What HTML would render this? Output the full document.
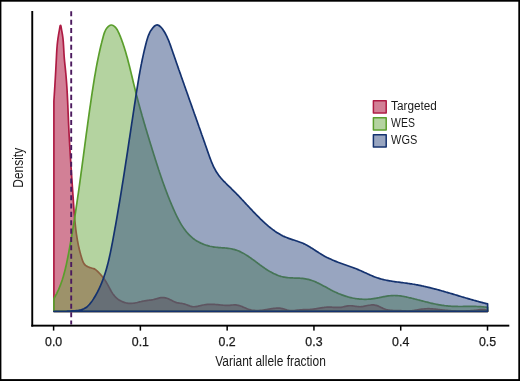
<!DOCTYPE html>
<html><head><meta charset="utf-8"><title>Variant allele fraction density</title>
<style>
html,body{margin:0;padding:0;background:#fff;}
svg{display:block;will-change:transform;}
text{font-family:"Liberation Sans",sans-serif;fill:#1a1a1a;}
</style></head><body>
<svg width="520" height="381" viewBox="0 0 520 381">
<rect x="0" y="0" width="520" height="381" fill="#fff"/>
<!-- outer frame -->
<rect x="0" y="0" width="520" height="1.7" fill="#000"/>
<rect x="0" y="379.1" width="520" height="1.9" fill="#000"/>
<rect x="0" y="0" width="1.4" height="381" fill="#000"/>
<rect x="518.3" y="0" width="1.7" height="381" fill="#000"/>
<!-- densities -->
<path d="M53.90 311.30 L53.90 101.00 C53.92 100.75 53.97 100.00 54.00 99.50 C54.03 99.01 54.06 98.51 54.10 98.01 C54.13 97.51 54.16 97.01 54.19 96.51 C54.22 96.01 54.26 95.51 54.29 95.01 C54.32 94.51 54.35 94.02 54.38 93.52 C54.42 93.02 54.45 92.52 54.48 92.02 C54.51 91.52 54.54 91.02 54.57 90.52 C54.60 90.02 54.64 89.52 54.67 89.02 C54.70 88.52 54.73 88.02 54.76 87.52 C54.79 87.02 54.82 86.52 54.85 86.02 C54.88 85.52 54.91 85.02 54.94 84.52 C54.97 84.02 55.00 83.52 55.03 83.02 C55.06 82.52 55.09 82.02 55.12 81.52 C55.15 81.02 55.18 80.52 55.21 80.02 C55.24 79.52 55.27 79.02 55.30 78.52 C55.33 78.02 55.36 77.52 55.38 77.02 C55.41 76.52 55.44 76.02 55.47 75.52 C55.50 75.02 55.53 74.52 55.55 74.02 C55.58 73.52 55.61 73.02 55.64 72.52 C55.67 72.02 55.69 71.52 55.72 71.02 C55.75 70.52 55.78 70.02 55.80 69.52 C55.83 69.02 55.86 68.52 55.88 68.02 C55.91 67.52 55.94 67.02 55.96 66.52 C55.99 66.02 56.02 65.52 56.04 65.02 C56.07 64.52 56.09 64.02 56.12 63.53 C56.15 63.03 56.17 62.53 56.20 62.03 C56.22 61.53 56.25 61.03 56.27 60.53 C56.30 60.04 56.32 59.54 56.35 59.04 C56.37 58.54 56.40 58.04 56.42 57.55 C56.44 57.05 56.47 56.55 56.49 56.05 C56.52 55.56 56.54 55.06 56.57 54.56 C56.59 54.06 56.62 53.56 56.64 53.06 C56.67 52.56 56.70 52.06 56.73 51.56 C56.76 51.06 56.79 50.56 56.82 50.05 C56.85 49.55 56.89 49.04 56.92 48.54 C56.96 48.03 57.00 47.52 57.04 47.01 C57.08 46.50 57.13 45.98 57.18 45.47 C57.22 44.95 57.27 44.44 57.33 43.92 C57.38 43.41 57.43 42.90 57.49 42.39 C57.55 41.88 57.61 41.37 57.67 40.87 C57.73 40.37 57.79 39.87 57.86 39.38 C57.92 38.89 57.99 38.41 58.06 37.93 C58.13 37.46 58.20 36.99 58.27 36.53 C58.34 36.07 58.41 35.63 58.49 35.18 C58.56 34.74 58.64 34.31 58.72 33.86 C58.80 33.41 58.88 32.96 58.96 32.47 C59.05 31.98 59.14 31.48 59.24 30.92 C59.33 30.36 59.44 29.75 59.54 29.12 C59.65 28.49 59.77 27.73 59.88 27.16 C60.00 26.59 60.13 25.98 60.25 25.69 C60.37 25.40 60.50 25.28 60.62 25.42 C60.74 25.56 60.87 26.04 60.99 26.54 C61.11 27.04 61.23 27.78 61.34 28.41 C61.45 29.04 61.56 29.73 61.66 30.32 C61.76 30.91 61.86 31.44 61.95 31.96 C62.04 32.47 62.13 32.94 62.21 33.40 C62.29 33.87 62.37 34.30 62.45 34.74 C62.52 35.18 62.59 35.61 62.65 36.06 C62.72 36.50 62.78 36.95 62.83 37.41 C62.89 37.87 62.95 38.33 63.00 38.80 C63.05 39.27 63.09 39.75 63.14 40.23 C63.18 40.72 63.23 41.20 63.27 41.70 C63.31 42.19 63.34 42.69 63.38 43.19 C63.41 43.69 63.45 44.19 63.48 44.70 C63.51 45.21 63.54 45.72 63.57 46.23 C63.60 46.74 63.63 47.26 63.66 47.78 C63.69 48.29 63.72 48.81 63.75 49.33 C63.77 49.85 63.80 50.38 63.83 50.90 C63.86 51.42 63.89 51.94 63.92 52.46 C63.95 52.99 63.98 53.51 64.01 54.03 C64.04 54.55 64.07 55.07 64.11 55.59 C64.14 56.10 64.18 56.62 64.21 57.13 C64.25 57.65 64.29 58.16 64.33 58.67 C64.38 59.18 64.42 59.68 64.47 60.19 C64.51 60.69 64.56 61.19 64.61 61.69 C64.66 62.19 64.71 62.69 64.76 63.19 C64.81 63.68 64.86 64.18 64.91 64.67 C64.96 65.17 65.01 65.66 65.07 66.15 C65.12 66.65 65.17 67.14 65.22 67.63 C65.28 68.12 65.33 68.61 65.38 69.10 C65.43 69.59 65.48 70.09 65.53 70.58 C65.58 71.07 65.63 71.56 65.68 72.05 C65.72 72.55 65.77 73.04 65.82 73.53 C65.86 74.03 65.91 74.52 65.95 75.01 C66.00 75.51 66.04 76.00 66.08 76.49 C66.12 76.99 66.16 77.48 66.20 77.98 C66.24 78.47 66.28 78.97 66.32 79.46 C66.36 79.96 66.40 80.45 66.44 80.95 C66.48 81.45 66.51 81.94 66.55 82.44 C66.58 82.94 66.62 83.43 66.65 83.93 C66.69 84.43 66.72 84.92 66.75 85.42 C66.79 85.92 66.82 86.42 66.85 86.91 C66.88 87.41 66.92 87.91 66.95 88.41 C66.98 88.91 67.01 89.40 67.04 89.90 C67.07 90.40 67.10 90.90 67.12 91.40 C67.15 91.90 67.18 92.40 67.21 92.90 C67.24 93.39 67.26 93.89 67.29 94.39 C67.32 94.89 67.34 95.39 67.37 95.89 C67.39 96.39 67.42 96.89 67.44 97.39 C67.47 97.89 67.49 98.39 67.52 98.89 C67.54 99.39 67.57 99.89 67.59 100.40 C67.61 100.90 67.64 101.40 67.66 101.90 C67.68 102.40 67.71 102.90 67.73 103.40 C67.75 103.90 67.77 104.40 67.79 104.90 C67.82 105.40 67.84 105.91 67.86 106.41 C67.88 106.91 67.90 107.41 67.92 107.91 C67.95 108.41 67.97 108.91 67.99 109.42 C68.01 109.92 68.03 110.42 68.05 110.92 C68.07 111.42 68.09 111.92 68.11 112.42 C68.14 112.93 68.16 113.43 68.18 113.93 C68.20 114.43 68.22 114.93 68.24 115.43 C68.26 115.94 68.28 116.44 68.30 116.94 C68.32 117.44 68.35 117.94 68.37 118.44 C68.39 118.95 68.41 119.45 68.43 119.95 C68.45 120.45 68.47 120.95 68.49 121.45 C68.52 121.95 68.54 122.46 68.56 122.96 C68.58 123.46 68.61 123.96 68.63 124.46 C68.65 124.96 68.67 125.46 68.70 125.96 C68.72 126.47 68.74 126.97 68.77 127.47 C68.79 127.97 68.81 128.47 68.84 128.97 C68.86 129.47 68.89 129.97 68.91 130.47 C68.93 130.97 68.96 131.47 68.98 131.97 C69.01 132.47 69.03 132.97 69.06 133.47 C69.09 133.98 69.11 134.48 69.14 134.98 C69.16 135.48 69.19 135.98 69.21 136.48 C69.24 136.98 69.27 137.48 69.29 137.98 C69.32 138.48 69.35 138.98 69.38 139.48 C69.40 139.98 69.43 140.48 69.46 140.98 C69.48 141.48 69.51 141.98 69.54 142.47 C69.57 142.97 69.60 143.47 69.62 143.97 C69.65 144.47 69.68 144.97 69.71 145.47 C69.74 145.97 69.77 146.47 69.80 146.97 C69.83 147.47 69.85 147.97 69.88 148.47 C69.91 148.97 69.94 149.47 69.97 149.97 C70.00 150.47 70.03 150.96 70.06 151.46 C70.09 151.96 70.12 152.46 70.15 152.96 C70.18 153.46 70.21 153.96 70.24 154.46 C70.27 154.96 70.30 155.46 70.34 155.96 C70.37 156.45 70.40 156.95 70.43 157.45 C70.46 157.95 70.49 158.45 70.52 158.95 C70.55 159.45 70.59 159.95 70.62 160.45 C70.65 160.94 70.68 161.44 70.71 161.94 C70.74 162.44 70.78 162.94 70.81 163.44 C70.84 163.94 70.87 164.44 70.91 164.94 C70.94 165.43 70.97 165.93 71.00 166.43 C71.04 166.93 71.07 167.43 71.10 167.93 C71.13 168.43 71.17 168.92 71.20 169.42 C71.23 169.92 71.27 170.42 71.30 170.92 C71.33 171.42 71.37 171.92 71.40 172.42 C71.43 172.91 71.47 173.41 71.50 173.91 C71.53 174.41 71.57 174.91 71.60 175.41 C71.63 175.91 71.67 176.40 71.70 176.90 C71.73 177.40 71.77 177.90 71.80 178.40 C71.84 178.90 71.87 179.40 71.90 179.90 C71.94 180.39 71.97 180.89 72.01 181.39 C72.04 181.89 72.08 182.39 72.11 182.89 C72.14 183.39 72.18 183.89 72.21 184.38 C72.25 184.88 72.28 185.38 72.32 185.88 C72.35 186.38 72.38 186.88 72.42 187.38 C72.45 187.88 72.49 188.38 72.52 188.87 C72.56 189.37 72.59 189.87 72.63 190.37 C72.66 190.87 72.70 191.37 72.73 191.87 C72.76 192.37 72.80 192.87 72.83 193.37 C72.87 193.86 72.90 194.36 72.94 194.86 C72.97 195.36 73.01 195.86 73.04 196.36 C73.08 196.86 73.11 197.36 73.15 197.86 C73.18 198.36 73.22 198.86 73.25 199.36 C73.28 199.85 73.32 200.35 73.35 200.85 C73.39 201.35 73.42 201.85 73.46 202.35 C73.49 202.85 73.53 203.35 73.56 203.85 C73.60 204.35 73.63 204.85 73.67 205.35 C73.70 205.85 73.73 206.35 73.77 206.85 C73.81 207.35 73.84 207.85 73.88 208.35 C73.91 208.85 73.95 209.35 73.98 209.85 C74.02 210.35 74.06 210.85 74.10 211.35 C74.13 211.85 74.17 212.34 74.21 212.84 C74.25 213.34 74.29 213.84 74.33 214.34 C74.37 214.84 74.41 215.34 74.45 215.84 C74.49 216.34 74.53 216.84 74.57 217.34 C74.61 217.84 74.66 218.34 74.70 218.83 C74.75 219.33 74.79 219.83 74.84 220.33 C74.88 220.83 74.93 221.33 74.98 221.83 C75.03 222.32 75.08 222.82 75.13 223.32 C75.18 223.82 75.23 224.32 75.28 224.81 C75.34 225.31 75.39 225.81 75.44 226.31 C75.50 226.80 75.56 227.30 75.62 227.80 C75.67 228.30 75.73 228.79 75.79 229.29 C75.86 229.79 75.92 230.28 75.98 230.78 C76.05 231.27 76.11 231.77 76.18 232.27 C76.25 232.76 76.32 233.26 76.39 233.75 C76.46 234.25 76.53 234.74 76.60 235.24 C76.68 235.73 76.75 236.23 76.83 236.72 C76.91 237.21 76.99 237.71 77.07 238.20 C77.16 238.69 77.24 239.19 77.33 239.68 C77.41 240.17 77.50 240.67 77.59 241.16 C77.68 241.65 77.77 242.14 77.87 242.63 C77.96 243.13 78.06 243.62 78.16 244.11 C78.26 244.60 78.36 245.09 78.46 245.58 C78.57 246.07 78.67 246.56 78.78 247.05 C78.89 247.54 79.00 248.03 79.12 248.52 C79.23 249.01 79.35 249.49 79.47 249.98 C79.59 250.47 79.71 250.96 79.84 251.44 C79.96 251.93 80.09 252.42 80.22 252.90 C80.35 253.39 80.48 253.88 80.62 254.36 C80.75 254.85 80.89 255.33 81.04 255.82 C81.18 256.30 81.32 256.78 81.47 257.27 C81.62 257.75 81.77 258.24 81.92 258.72 C82.08 259.20 82.23 259.68 82.40 260.16 C82.57 260.63 82.74 261.11 82.94 261.56 C83.13 262.02 83.34 262.47 83.57 262.89 C83.80 263.32 84.05 263.73 84.34 264.11 C84.63 264.49 84.94 264.85 85.30 265.18 C85.65 265.51 86.04 265.80 86.46 266.06 C86.89 266.33 87.35 266.56 87.82 266.77 C88.29 266.98 88.80 267.16 89.29 267.33 C89.79 267.51 90.30 267.65 90.79 267.79 C91.29 267.93 91.78 268.05 92.25 268.19 C92.73 268.33 93.20 268.47 93.65 268.65 C94.10 268.83 94.53 269.04 94.95 269.28 C95.37 269.52 95.78 269.80 96.17 270.11 C96.56 270.41 96.94 270.75 97.31 271.10 C97.68 271.44 98.03 271.82 98.39 272.18 C98.74 272.55 99.09 272.92 99.43 273.29 C99.78 273.66 100.12 274.03 100.45 274.40 C100.79 274.78 101.12 275.15 101.44 275.53 C101.77 275.91 102.08 276.29 102.40 276.68 C102.71 277.07 103.02 277.46 103.32 277.85 C103.62 278.24 103.92 278.64 104.21 279.04 C104.50 279.44 104.79 279.85 105.07 280.26 C105.34 280.67 105.62 281.09 105.88 281.51 C106.15 281.93 106.41 282.36 106.66 282.80 C106.91 283.23 107.16 283.67 107.40 284.11 C107.65 284.55 107.89 285.00 108.13 285.44 C108.36 285.89 108.60 286.34 108.83 286.79 C109.07 287.24 109.30 287.69 109.54 288.14 C109.78 288.58 110.01 289.03 110.26 289.48 C110.50 289.92 110.74 290.36 110.99 290.80 C111.24 291.24 111.49 291.68 111.75 292.10 C112.01 292.53 112.28 292.95 112.55 293.37 C112.83 293.78 113.11 294.19 113.41 294.59 C113.70 294.99 114.00 295.38 114.32 295.76 C114.63 296.14 114.96 296.51 115.30 296.87 C115.64 297.23 116.00 297.58 116.37 297.91 C116.74 298.24 117.12 298.56 117.51 298.87 C117.91 299.18 118.31 299.47 118.73 299.75 C119.14 300.03 119.57 300.30 120.01 300.55 C120.44 300.80 120.89 301.03 121.34 301.25 C121.79 301.47 122.25 301.68 122.72 301.87 C123.18 302.05 123.66 302.23 124.14 302.38 C124.61 302.54 125.10 302.68 125.58 302.80 C126.07 302.92 126.56 303.02 127.05 303.11 C127.54 303.19 128.03 303.26 128.53 303.31 C129.02 303.35 129.52 303.38 130.01 303.39 C130.50 303.40 131.00 303.39 131.49 303.37 C131.98 303.34 132.48 303.30 132.97 303.24 C133.46 303.19 133.96 303.12 134.45 303.04 C134.94 302.97 135.44 302.88 135.93 302.78 C136.42 302.68 136.91 302.58 137.40 302.47 C137.90 302.36 138.39 302.24 138.88 302.13 C139.37 302.01 139.87 301.89 140.36 301.77 C140.85 301.66 141.34 301.54 141.84 301.42 C142.33 301.31 142.82 301.20 143.32 301.09 C143.81 300.99 144.30 300.88 144.80 300.79 C145.29 300.70 145.78 300.62 146.28 300.55 C146.77 300.48 147.27 300.42 147.76 300.37 C148.26 300.31 148.75 300.27 149.24 300.22 C149.74 300.16 150.23 300.12 150.73 300.06 C151.22 300.00 151.71 299.93 152.20 299.84 C152.69 299.76 153.18 299.65 153.67 299.54 C154.16 299.42 154.64 299.29 155.13 299.15 C155.61 299.02 156.10 298.87 156.59 298.73 C157.07 298.59 157.56 298.44 158.04 298.31 C158.53 298.18 159.02 298.05 159.51 297.94 C160.00 297.84 160.48 297.74 160.98 297.67 C161.47 297.60 161.96 297.55 162.46 297.53 C162.95 297.52 163.46 297.53 163.95 297.58 C164.45 297.63 164.96 297.71 165.45 297.82 C165.95 297.93 166.44 298.07 166.92 298.22 C167.40 298.38 167.87 298.57 168.33 298.77 C168.79 298.96 169.23 299.19 169.68 299.41 C170.13 299.63 170.57 299.87 171.01 300.11 C171.45 300.35 171.90 300.59 172.35 300.83 C172.80 301.06 173.25 301.30 173.71 301.51 C174.17 301.73 174.63 301.94 175.10 302.13 C175.56 302.31 176.03 302.48 176.51 302.62 C176.99 302.76 177.47 302.87 177.95 302.96 C178.43 303.05 178.92 303.10 179.41 303.17 C179.90 303.23 180.39 303.27 180.88 303.33 C181.37 303.39 181.87 303.44 182.36 303.52 C182.85 303.61 183.34 303.70 183.83 303.83 C184.32 303.96 184.81 304.11 185.30 304.28 C185.79 304.44 186.27 304.63 186.76 304.82 C187.25 305.00 187.73 305.20 188.22 305.38 C188.70 305.57 189.19 305.76 189.67 305.92 C190.16 306.08 190.64 306.24 191.13 306.37 C191.61 306.49 192.10 306.60 192.58 306.67 C193.07 306.73 193.56 306.76 194.04 306.76 C194.53 306.77 195.02 306.73 195.51 306.67 C195.99 306.62 196.48 306.54 196.97 306.44 C197.46 306.35 197.95 306.23 198.44 306.12 C198.93 306.00 199.42 305.86 199.91 305.74 C200.40 305.61 200.89 305.48 201.38 305.36 C201.88 305.24 202.37 305.13 202.86 305.03 C203.35 304.93 203.84 304.84 204.34 304.76 C204.83 304.68 205.32 304.62 205.81 304.56 C206.31 304.51 206.80 304.46 207.29 304.43 C207.78 304.39 208.28 304.37 208.77 304.35 C209.27 304.33 209.76 304.32 210.25 304.32 C210.75 304.31 211.24 304.32 211.73 304.33 C212.23 304.34 212.72 304.36 213.22 304.38 C213.71 304.40 214.21 304.43 214.70 304.46 C215.20 304.50 215.69 304.53 216.19 304.57 C216.68 304.61 217.18 304.66 217.67 304.70 C218.17 304.75 218.66 304.80 219.16 304.84 C219.65 304.89 220.15 304.94 220.64 304.99 C221.14 305.04 221.63 305.09 222.13 305.13 C222.63 305.18 223.12 305.22 223.62 305.25 C224.12 305.29 224.62 305.32 225.12 305.35 C225.62 305.37 226.11 305.39 226.62 305.39 C227.12 305.40 227.62 305.40 228.12 305.39 C228.62 305.37 229.13 305.35 229.63 305.31 C230.13 305.27 230.64 305.22 231.15 305.17 C231.65 305.11 232.16 305.05 232.66 305.00 C233.16 304.95 233.67 304.90 234.16 304.88 C234.66 304.86 235.16 304.86 235.65 304.89 C236.14 304.92 236.62 304.98 237.10 305.06 C237.58 305.14 238.06 305.25 238.53 305.37 C239.01 305.49 239.48 305.64 239.95 305.79 C240.42 305.95 240.88 306.13 241.35 306.31 C241.82 306.49 242.28 306.68 242.74 306.88 C243.21 307.07 243.67 307.28 244.14 307.48 C244.60 307.68 245.07 307.89 245.53 308.09 C246.00 308.29 246.47 308.48 246.94 308.67 C247.41 308.86 247.88 309.04 248.36 309.20 C248.83 309.37 249.31 309.52 249.80 309.66 C250.28 309.79 250.76 309.91 251.25 310.02 C251.74 310.12 252.24 310.21 252.73 310.28 C253.23 310.36 253.72 310.42 254.22 310.46 C254.72 310.51 255.23 310.54 255.73 310.57 C256.23 310.59 256.73 310.60 257.24 310.60 C257.74 310.60 258.25 310.58 258.75 310.56 C259.26 310.54 259.76 310.51 260.27 310.47 C260.77 310.43 261.27 310.39 261.78 310.33 C262.28 310.28 262.78 310.22 263.28 310.15 C263.78 310.08 264.27 310.01 264.77 309.93 C265.27 309.85 265.76 309.77 266.25 309.68 C266.74 309.60 267.24 309.51 267.73 309.42 C268.22 309.33 268.71 309.24 269.20 309.16 C269.69 309.07 270.18 308.98 270.67 308.90 C271.16 308.82 271.65 308.74 272.14 308.66 C272.63 308.59 273.12 308.51 273.61 308.45 C274.10 308.39 274.60 308.33 275.09 308.28 C275.59 308.24 276.08 308.20 276.58 308.17 C277.07 308.15 277.57 308.13 278.06 308.13 C278.55 308.14 279.05 308.15 279.54 308.19 C280.04 308.22 280.53 308.28 281.02 308.35 C281.52 308.43 282.01 308.53 282.50 308.65 C282.99 308.76 283.47 308.91 283.96 309.06 C284.45 309.21 284.94 309.38 285.42 309.53 C285.91 309.68 286.40 309.84 286.89 309.97 C287.38 310.10 287.87 310.21 288.36 310.30 C288.85 310.39 289.34 310.45 289.84 310.50 C290.33 310.55 290.83 310.57 291.32 310.58 C291.82 310.59 292.32 310.58 292.81 310.57 C293.31 310.55 293.81 310.52 294.31 310.48 C294.81 310.44 295.31 310.40 295.81 310.35 C296.31 310.29 296.81 310.24 297.32 310.18 C297.82 310.12 298.32 310.06 298.82 310.01 C299.32 309.95 299.82 309.90 300.33 309.85 C300.83 309.80 301.33 309.76 301.83 309.73 C302.33 309.70 302.83 309.67 303.33 309.65 C303.83 309.63 304.34 309.62 304.84 309.61 C305.34 309.59 305.84 309.59 306.33 309.57 C306.83 309.56 307.33 309.55 307.83 309.54 C308.33 309.52 308.83 309.50 309.33 309.48 C309.82 309.45 310.32 309.42 310.82 309.38 C311.32 309.34 311.81 309.29 312.31 309.24 C312.80 309.18 313.30 309.12 313.79 309.06 C314.29 309.00 314.78 308.93 315.28 308.86 C315.77 308.79 316.27 308.71 316.76 308.63 C317.26 308.55 317.75 308.47 318.24 308.39 C318.74 308.31 319.23 308.23 319.73 308.14 C320.22 308.06 320.71 307.97 321.21 307.89 C321.70 307.81 322.19 307.73 322.69 307.65 C323.18 307.57 323.67 307.49 324.17 307.43 C324.66 307.36 325.16 307.30 325.65 307.25 C326.15 307.20 326.64 307.15 327.14 307.13 C327.64 307.10 328.13 307.09 328.63 307.08 C329.13 307.08 329.63 307.09 330.13 307.11 C330.63 307.13 331.13 307.16 331.63 307.18 C332.13 307.21 332.63 307.25 333.13 307.28 C333.63 307.31 334.13 307.35 334.63 307.38 C335.13 307.40 335.63 307.43 336.13 307.45 C336.63 307.46 337.13 307.48 337.63 307.47 C338.13 307.47 338.63 307.46 339.13 307.43 C339.62 307.40 340.12 307.35 340.62 307.29 C341.11 307.23 341.61 307.14 342.10 307.05 C342.59 306.96 343.09 306.86 343.58 306.76 C344.07 306.66 344.57 306.54 345.06 306.44 C345.55 306.34 346.05 306.23 346.54 306.14 C347.03 306.05 347.53 305.97 348.02 305.90 C348.52 305.84 349.01 305.78 349.51 305.75 C350.00 305.73 350.50 305.72 351.00 305.74 C351.50 305.76 352.00 305.80 352.50 305.86 C353.00 305.91 353.50 305.99 354.00 306.06 C354.50 306.13 355.00 306.22 355.50 306.30 C356.00 306.37 356.50 306.46 357.00 306.52 C357.50 306.59 358.00 306.65 358.50 306.69 C359.00 306.73 359.50 306.76 360.00 306.76 C360.49 306.75 360.99 306.72 361.48 306.68 C361.98 306.63 362.47 306.55 362.96 306.47 C363.46 306.38 363.95 306.28 364.44 306.18 C364.93 306.07 365.43 305.96 365.92 305.85 C366.42 305.74 366.91 305.63 367.40 305.53 C367.90 305.43 368.40 305.33 368.89 305.25 C369.39 305.16 369.88 305.08 370.38 305.03 C370.87 304.97 371.37 304.93 371.86 304.91 C372.36 304.89 372.85 304.89 373.35 304.92 C373.84 304.95 374.34 305.00 374.83 305.08 C375.33 305.17 375.82 305.28 376.31 305.42 C376.79 305.55 377.27 305.71 377.75 305.89 C378.22 306.07 378.68 306.27 379.14 306.47 C379.60 306.68 380.05 306.91 380.50 307.13 C380.95 307.35 381.39 307.58 381.84 307.80 C382.29 308.03 382.73 308.25 383.19 308.45 C383.64 308.66 384.10 308.86 384.57 309.03 C385.03 309.20 385.51 309.36 385.99 309.49 C386.47 309.63 386.96 309.75 387.45 309.86 C387.94 309.96 388.44 310.05 388.94 310.12 C389.44 310.20 389.94 310.26 390.44 310.31 C390.94 310.36 391.44 310.40 391.94 310.43 C392.44 310.46 392.94 310.48 393.44 310.49 C393.94 310.51 394.44 310.52 394.94 310.53 C395.44 310.53 395.94 310.54 396.44 310.54 C396.94 310.55 397.44 310.55 397.94 310.56 C398.44 310.57 398.94 310.58 399.44 310.60 C399.95 310.62 400.45 310.65 400.95 310.68 C401.45 310.70 401.95 310.74 402.45 310.77 C402.95 310.80 403.45 310.84 403.95 310.87 C404.45 310.90 404.95 310.93 405.45 310.95 C405.95 310.97 406.45 310.99 406.95 311.01 C407.45 311.02 407.95 311.02 408.45 311.02 C408.95 311.01 409.45 311.00 409.95 310.97 C410.45 310.94 410.95 310.90 411.45 310.86 C411.95 310.81 412.45 310.75 412.95 310.68 C413.45 310.62 413.95 310.54 414.45 310.46 C414.94 310.38 415.44 310.30 415.94 310.21 C416.44 310.13 416.94 310.04 417.43 309.95 C417.93 309.86 418.43 309.76 418.92 309.68 C419.42 309.59 419.92 309.50 420.42 309.41 C420.91 309.33 421.41 309.25 421.91 309.18 C422.40 309.11 422.90 309.04 423.39 308.98 C423.89 308.92 424.39 308.87 424.88 308.83 C425.38 308.79 425.87 308.76 426.37 308.74 C426.86 308.72 427.36 308.71 427.86 308.71 C428.35 308.71 428.85 308.71 429.34 308.72 C429.84 308.74 430.33 308.76 430.83 308.78 C431.32 308.81 431.82 308.84 432.31 308.88 C432.81 308.91 433.30 308.95 433.80 309.00 C434.29 309.04 434.79 309.09 435.29 309.15 C435.78 309.20 436.28 309.25 436.77 309.31 C437.27 309.37 437.76 309.42 438.26 309.48 C438.76 309.54 439.25 309.60 439.75 309.66 C440.25 309.72 440.74 309.78 441.24 309.84 C441.74 309.90 442.23 309.95 442.73 310.01 C443.23 310.06 443.73 310.11 444.23 310.16 C444.72 310.22 445.22 310.26 445.72 310.31 C446.22 310.36 446.72 310.40 447.22 310.45 C447.71 310.49 448.21 310.53 448.71 310.57 C449.21 310.61 449.71 310.65 450.21 310.68 C450.71 310.72 451.21 310.75 451.71 310.78 C452.21 310.82 452.71 310.84 453.21 310.87 C453.71 310.90 454.21 310.92 454.71 310.94 C455.21 310.96 455.71 310.98 456.21 311.00 C456.71 311.02 457.21 311.03 457.71 311.04 C458.21 311.06 458.71 311.07 459.21 311.07 C459.71 311.08 460.21 311.08 460.71 311.09 C461.21 311.09 461.71 311.09 462.21 311.08 C462.71 311.08 463.21 311.07 463.71 311.06 C464.21 311.05 464.71 311.04 465.21 311.02 C465.71 311.01 466.21 310.99 466.70 310.97 C467.20 310.95 467.70 310.92 468.20 310.89 C468.70 310.87 469.20 310.84 469.70 310.80 C470.20 310.77 470.70 310.73 471.19 310.69 C471.69 310.65 472.19 310.61 472.69 310.56 C473.19 310.51 473.68 310.46 474.18 310.41 C474.68 310.35 475.18 310.29 475.67 310.23 C476.17 310.17 476.67 310.11 477.16 310.04 C477.66 309.98 478.16 309.91 478.65 309.86 C479.15 309.80 479.64 309.74 480.14 309.70 C480.64 309.66 481.13 309.62 481.63 309.61 C482.13 309.59 482.62 309.58 483.12 309.60 C483.62 309.62 484.11 309.65 484.61 309.71 C485.11 309.77 485.61 309.86 486.10 309.97 C486.60 310.08 487.35 310.33 487.60 310.40 L487.60 311.30 Z" fill="rgba(174,28,68,0.56)" stroke="#ae1c44" stroke-width="1.7" stroke-linejoin="round"/>
<path d="M53.90 311.30 L53.90 298.60 C54.03 298.38 54.42 297.73 54.67 297.29 C54.92 296.85 55.16 296.41 55.40 295.97 C55.64 295.53 55.88 295.09 56.11 294.64 C56.35 294.20 56.57 293.75 56.80 293.31 C57.02 292.86 57.24 292.41 57.46 291.96 C57.67 291.51 57.88 291.06 58.09 290.61 C58.30 290.15 58.50 289.70 58.70 289.24 C58.90 288.79 59.10 288.33 59.29 287.87 C59.48 287.41 59.67 286.95 59.85 286.49 C60.04 286.03 60.22 285.57 60.40 285.11 C60.57 284.64 60.75 284.18 60.92 283.71 C61.09 283.25 61.26 282.78 61.42 282.31 C61.59 281.84 61.75 281.38 61.91 280.91 C62.06 280.44 62.22 279.96 62.37 279.49 C62.52 279.02 62.67 278.55 62.82 278.07 C62.97 277.60 63.11 277.12 63.25 276.65 C63.39 276.17 63.53 275.70 63.67 275.22 C63.81 274.74 63.94 274.26 64.07 273.78 C64.20 273.30 64.33 272.82 64.46 272.34 C64.58 271.86 64.71 271.38 64.83 270.90 C64.95 270.42 65.07 269.93 65.19 269.45 C65.31 268.97 65.43 268.48 65.54 268.00 C65.66 267.51 65.77 267.03 65.88 266.54 C65.99 266.06 66.10 265.57 66.21 265.08 C66.32 264.60 66.43 264.11 66.53 263.62 C66.64 263.13 66.74 262.65 66.84 262.16 C66.95 261.67 67.05 261.18 67.15 260.69 C67.25 260.20 67.35 259.71 67.45 259.22 C67.54 258.73 67.64 258.24 67.74 257.75 C67.83 257.26 67.93 256.77 68.02 256.28 C68.12 255.78 68.21 255.29 68.31 254.80 C68.40 254.31 68.49 253.82 68.58 253.33 C68.68 252.83 68.77 252.34 68.86 251.85 C68.95 251.36 69.04 250.87 69.13 250.37 C69.23 249.88 69.32 249.39 69.41 248.90 C69.50 248.41 69.59 247.91 69.68 247.42 C69.77 246.93 69.85 246.44 69.94 245.94 C70.03 245.45 70.12 244.96 70.21 244.47 C70.30 243.97 70.38 243.48 70.47 242.99 C70.56 242.49 70.65 242.00 70.73 241.51 C70.82 241.02 70.91 240.52 70.99 240.03 C71.08 239.54 71.16 239.04 71.25 238.55 C71.33 238.06 71.42 237.56 71.50 237.07 C71.59 236.58 71.67 236.08 71.76 235.59 C71.84 235.10 71.93 234.60 72.01 234.11 C72.09 233.61 72.18 233.12 72.26 232.63 C72.34 232.13 72.42 231.64 72.51 231.14 C72.59 230.65 72.67 230.16 72.75 229.66 C72.83 229.17 72.91 228.67 73.00 228.18 C73.08 227.69 73.16 227.19 73.24 226.70 C73.32 226.20 73.40 225.71 73.48 225.21 C73.56 224.72 73.64 224.23 73.72 223.73 C73.80 223.24 73.88 222.74 73.95 222.25 C74.03 221.75 74.11 221.26 74.19 220.76 C74.27 220.27 74.35 219.77 74.42 219.28 C74.50 218.78 74.58 218.29 74.66 217.79 C74.74 217.30 74.81 216.80 74.89 216.31 C74.97 215.81 75.04 215.32 75.12 214.82 C75.20 214.33 75.27 213.83 75.35 213.34 C75.42 212.84 75.50 212.35 75.57 211.85 C75.65 211.36 75.72 210.86 75.80 210.37 C75.87 209.87 75.95 209.37 76.02 208.88 C76.10 208.38 76.17 207.89 76.25 207.39 C76.32 206.90 76.39 206.40 76.47 205.91 C76.54 205.41 76.62 204.91 76.69 204.42 C76.76 203.92 76.84 203.43 76.91 202.93 C76.98 202.44 77.05 201.94 77.13 201.44 C77.20 200.95 77.27 200.45 77.34 199.96 C77.42 199.46 77.49 198.96 77.56 198.47 C77.63 197.97 77.70 197.48 77.77 196.98 C77.85 196.48 77.92 195.99 77.99 195.49 C78.06 195.00 78.13 194.50 78.20 194.00 C78.27 193.51 78.34 193.01 78.41 192.52 C78.48 192.02 78.55 191.52 78.62 191.03 C78.69 190.53 78.76 190.03 78.83 189.54 C78.90 189.04 78.97 188.55 79.04 188.05 C79.11 187.55 79.18 187.06 79.25 186.56 C79.32 186.06 79.39 185.57 79.46 185.07 C79.53 184.58 79.60 184.08 79.66 183.58 C79.73 183.09 79.80 182.59 79.87 182.09 C79.94 181.60 80.01 181.10 80.08 180.60 C80.14 180.11 80.21 179.61 80.28 179.12 C80.35 178.62 80.42 178.12 80.48 177.63 C80.55 177.13 80.62 176.63 80.69 176.14 C80.76 175.64 80.82 175.14 80.89 174.65 C80.96 174.15 81.03 173.65 81.09 173.16 C81.16 172.66 81.23 172.16 81.29 171.67 C81.36 171.17 81.43 170.68 81.50 170.18 C81.56 169.68 81.63 169.19 81.70 168.69 C81.76 168.19 81.83 167.70 81.90 167.20 C81.96 166.70 82.03 166.21 82.10 165.71 C82.16 165.21 82.23 164.72 82.30 164.22 C82.36 163.72 82.43 163.23 82.50 162.73 C82.56 162.24 82.63 161.74 82.69 161.24 C82.76 160.75 82.83 160.25 82.89 159.75 C82.96 159.26 83.03 158.76 83.09 158.26 C83.16 157.77 83.22 157.27 83.29 156.78 C83.36 156.28 83.42 155.78 83.49 155.29 C83.55 154.79 83.62 154.29 83.69 153.80 C83.75 153.30 83.82 152.80 83.89 152.31 C83.95 151.81 84.02 151.32 84.08 150.82 C84.15 150.32 84.22 149.83 84.28 149.33 C84.35 148.84 84.41 148.34 84.48 147.84 C84.55 147.35 84.61 146.85 84.68 146.35 C84.74 145.86 84.81 145.36 84.88 144.87 C84.94 144.37 85.01 143.87 85.07 143.38 C85.14 142.88 85.21 142.39 85.27 141.89 C85.34 141.40 85.40 140.90 85.47 140.40 C85.54 139.91 85.60 139.41 85.67 138.92 C85.74 138.42 85.80 137.92 85.87 137.43 C85.94 136.93 86.00 136.44 86.07 135.94 C86.13 135.45 86.20 134.95 86.27 134.46 C86.33 133.96 86.40 133.46 86.47 132.97 C86.53 132.47 86.60 131.98 86.67 131.48 C86.74 130.99 86.80 130.49 86.87 130.00 C86.94 129.50 87.00 129.01 87.07 128.51 C87.14 128.02 87.20 127.52 87.27 127.02 C87.34 126.53 87.41 126.03 87.47 125.54 C87.54 125.04 87.61 124.55 87.68 124.05 C87.74 123.56 87.81 123.06 87.88 122.57 C87.95 122.07 88.02 121.58 88.08 121.09 C88.15 120.59 88.22 120.10 88.29 119.60 C88.36 119.11 88.43 118.61 88.49 118.12 C88.56 117.62 88.63 117.13 88.70 116.63 C88.77 116.14 88.84 115.65 88.91 115.15 C88.98 114.66 89.05 114.16 89.11 113.67 C89.18 113.17 89.25 112.68 89.32 112.19 C89.39 111.69 89.46 111.20 89.53 110.70 C89.60 110.21 89.67 109.72 89.74 109.22 C89.81 108.73 89.88 108.23 89.95 107.74 C90.02 107.25 90.09 106.75 90.17 106.26 C90.24 105.77 90.31 105.27 90.38 104.78 C90.45 104.29 90.52 103.79 90.59 103.30 C90.66 102.81 90.74 102.31 90.81 101.82 C90.88 101.33 90.95 100.83 91.02 100.34 C91.10 99.85 91.17 99.35 91.24 98.86 C91.31 98.37 91.39 97.88 91.46 97.38 C91.53 96.89 91.60 96.40 91.68 95.90 C91.75 95.41 91.82 94.92 91.90 94.43 C91.97 93.93 92.05 93.44 92.12 92.95 C92.19 92.46 92.27 91.97 92.34 91.47 C92.42 90.98 92.49 90.49 92.57 90.00 C92.64 89.51 92.72 89.01 92.79 88.52 C92.87 88.03 92.95 87.54 93.02 87.05 C93.10 86.55 93.18 86.06 93.25 85.57 C93.33 85.08 93.41 84.59 93.48 84.10 C93.56 83.61 93.64 83.11 93.72 82.62 C93.80 82.13 93.88 81.64 93.96 81.15 C94.04 80.66 94.12 80.17 94.20 79.68 C94.28 79.18 94.36 78.69 94.44 78.20 C94.52 77.71 94.60 77.22 94.68 76.73 C94.77 76.24 94.85 75.75 94.93 75.26 C95.02 74.77 95.10 74.28 95.19 73.78 C95.27 73.29 95.36 72.80 95.44 72.31 C95.53 71.82 95.61 71.33 95.70 70.84 C95.79 70.35 95.88 69.86 95.97 69.37 C96.05 68.88 96.14 68.39 96.23 67.90 C96.32 67.41 96.41 66.92 96.51 66.43 C96.60 65.93 96.69 65.44 96.78 64.95 C96.88 64.46 96.97 63.97 97.06 63.48 C97.16 62.99 97.25 62.50 97.35 62.01 C97.45 61.52 97.54 61.03 97.64 60.54 C97.74 60.05 97.84 59.56 97.94 59.07 C98.04 58.58 98.14 58.09 98.24 57.60 C98.34 57.11 98.44 56.62 98.55 56.12 C98.65 55.63 98.76 55.14 98.86 54.65 C98.97 54.16 99.07 53.67 99.18 53.18 C99.29 52.69 99.40 52.20 99.51 51.71 C99.62 51.22 99.73 50.73 99.84 50.24 C99.95 49.75 100.06 49.26 100.18 48.77 C100.29 48.28 100.41 47.78 100.52 47.29 C100.64 46.80 100.75 46.31 100.87 45.82 C100.99 45.33 101.11 44.84 101.23 44.35 C101.35 43.86 101.47 43.37 101.60 42.88 C101.72 42.38 101.85 41.89 101.97 41.40 C102.10 40.91 102.22 40.42 102.35 39.93 C102.48 39.44 102.61 38.95 102.74 38.46 C102.87 37.96 103.00 37.47 103.14 36.98 C103.27 36.49 103.41 36.00 103.55 35.51 C103.69 35.02 103.83 34.53 103.98 34.05 C104.14 33.57 104.30 33.09 104.47 32.62 C104.65 32.15 104.83 31.68 105.03 31.23 C105.24 30.77 105.45 30.33 105.69 29.89 C105.93 29.46 106.18 29.03 106.46 28.63 C106.74 28.22 107.05 27.82 107.38 27.44 C107.71 27.07 108.07 26.69 108.45 26.36 C108.84 26.03 109.26 25.70 109.68 25.47 C110.11 25.25 110.57 25.07 111.02 25.02 C111.47 24.98 111.95 25.05 112.40 25.19 C112.85 25.33 113.31 25.59 113.74 25.87 C114.16 26.15 114.57 26.50 114.95 26.87 C115.32 27.23 115.66 27.63 115.98 28.04 C116.30 28.45 116.59 28.89 116.87 29.32 C117.15 29.76 117.41 30.22 117.66 30.67 C117.91 31.12 118.14 31.57 118.36 32.02 C118.59 32.48 118.80 32.93 119.01 33.38 C119.22 33.84 119.42 34.29 119.61 34.75 C119.80 35.21 119.99 35.67 120.17 36.12 C120.36 36.58 120.54 37.04 120.72 37.50 C120.89 37.96 121.07 38.43 121.25 38.89 C121.42 39.35 121.59 39.81 121.76 40.28 C121.93 40.74 122.10 41.21 122.27 41.67 C122.43 42.14 122.60 42.61 122.76 43.08 C122.92 43.54 123.08 44.01 123.24 44.48 C123.40 44.95 123.55 45.42 123.71 45.90 C123.86 46.37 124.02 46.84 124.17 47.31 C124.32 47.79 124.47 48.26 124.62 48.73 C124.77 49.21 124.91 49.68 125.06 50.16 C125.20 50.63 125.35 51.11 125.49 51.59 C125.63 52.07 125.77 52.54 125.91 53.02 C126.05 53.50 126.19 53.98 126.33 54.46 C126.46 54.94 126.60 55.42 126.73 55.90 C126.87 56.38 127.00 56.86 127.13 57.34 C127.27 57.83 127.40 58.31 127.53 58.79 C127.66 59.27 127.79 59.76 127.91 60.24 C128.04 60.73 128.17 61.21 128.30 61.69 C128.42 62.18 128.55 62.66 128.67 63.15 C128.80 63.64 128.92 64.12 129.04 64.61 C129.17 65.09 129.29 65.58 129.41 66.07 C129.53 66.55 129.66 67.04 129.78 67.53 C129.90 68.02 130.02 68.50 130.14 68.99 C130.26 69.48 130.38 69.97 130.49 70.46 C130.61 70.94 130.73 71.43 130.85 71.92 C130.97 72.41 131.09 72.90 131.20 73.39 C131.32 73.88 131.44 74.37 131.55 74.85 C131.67 75.34 131.79 75.83 131.91 76.32 C132.02 76.81 132.14 77.30 132.26 77.79 C132.37 78.28 132.49 78.77 132.61 79.26 C132.72 79.75 132.84 80.24 132.96 80.73 C133.08 81.22 133.19 81.71 133.31 82.20 C133.43 82.68 133.55 83.17 133.66 83.66 C133.78 84.15 133.90 84.64 134.02 85.13 C134.14 85.62 134.26 86.11 134.38 86.60 C134.50 87.08 134.62 87.57 134.74 88.06 C134.86 88.55 134.98 89.04 135.10 89.52 C135.22 90.01 135.35 90.50 135.47 90.99 C135.59 91.47 135.72 91.96 135.84 92.45 C135.96 92.94 136.09 93.42 136.21 93.91 C136.34 94.40 136.46 94.88 136.59 95.37 C136.71 95.85 136.84 96.34 136.97 96.83 C137.09 97.31 137.22 97.80 137.35 98.28 C137.47 98.77 137.60 99.25 137.73 99.74 C137.86 100.22 137.99 100.71 138.12 101.19 C138.25 101.68 138.38 102.16 138.51 102.65 C138.64 103.13 138.77 103.62 138.90 104.10 C139.03 104.58 139.16 105.07 139.29 105.55 C139.42 106.04 139.56 106.52 139.69 107.00 C139.82 107.49 139.95 107.97 140.09 108.45 C140.22 108.94 140.35 109.42 140.49 109.90 C140.62 110.38 140.76 110.87 140.89 111.35 C141.03 111.83 141.16 112.31 141.30 112.80 C141.43 113.28 141.57 113.76 141.70 114.24 C141.84 114.72 141.98 115.20 142.11 115.69 C142.25 116.17 142.39 116.65 142.53 117.13 C142.66 117.61 142.80 118.09 142.94 118.57 C143.08 119.05 143.22 119.54 143.36 120.02 C143.49 120.50 143.63 120.98 143.77 121.46 C143.91 121.94 144.05 122.42 144.19 122.90 C144.33 123.38 144.47 123.86 144.61 124.34 C144.76 124.82 144.90 125.30 145.04 125.78 C145.18 126.26 145.32 126.74 145.46 127.22 C145.60 127.70 145.75 128.17 145.89 128.65 C146.03 129.13 146.17 129.61 146.32 130.09 C146.46 130.57 146.60 131.05 146.75 131.53 C146.89 132.01 147.03 132.48 147.18 132.96 C147.32 133.44 147.47 133.92 147.61 134.40 C147.75 134.88 147.90 135.35 148.04 135.83 C148.19 136.31 148.33 136.79 148.48 137.26 C148.62 137.74 148.77 138.22 148.92 138.70 C149.06 139.17 149.21 139.65 149.35 140.13 C149.50 140.61 149.65 141.08 149.79 141.56 C149.94 142.04 150.09 142.51 150.23 142.99 C150.38 143.47 150.53 143.95 150.67 144.42 C150.82 144.90 150.97 145.38 151.12 145.85 C151.26 146.33 151.41 146.80 151.56 147.28 C151.71 147.76 151.85 148.23 152.00 148.71 C152.15 149.19 152.30 149.66 152.45 150.14 C152.60 150.61 152.74 151.09 152.89 151.57 C153.04 152.04 153.19 152.52 153.34 152.99 C153.49 153.47 153.64 153.94 153.79 154.42 C153.94 154.90 154.08 155.37 154.23 155.85 C154.38 156.32 154.53 156.80 154.68 157.27 C154.83 157.75 154.98 158.22 155.13 158.70 C155.28 159.17 155.43 159.65 155.59 160.12 C155.74 160.60 155.89 161.07 156.04 161.55 C156.19 162.02 156.34 162.49 156.49 162.97 C156.65 163.44 156.80 163.92 156.95 164.39 C157.10 164.87 157.26 165.34 157.41 165.81 C157.56 166.29 157.72 166.76 157.87 167.24 C158.03 167.71 158.18 168.18 158.34 168.66 C158.49 169.13 158.65 169.60 158.80 170.08 C158.96 170.55 159.12 171.02 159.27 171.50 C159.43 171.97 159.59 172.44 159.74 172.91 C159.90 173.39 160.06 173.86 160.22 174.33 C160.38 174.80 160.54 175.28 160.70 175.75 C160.86 176.22 161.02 176.69 161.18 177.17 C161.34 177.64 161.51 178.11 161.67 178.58 C161.83 179.05 162.00 179.52 162.16 180.00 C162.32 180.47 162.49 180.94 162.65 181.41 C162.82 181.88 162.99 182.35 163.15 182.82 C163.32 183.29 163.49 183.76 163.66 184.23 C163.82 184.70 163.99 185.17 164.16 185.64 C164.33 186.11 164.50 186.58 164.68 187.05 C164.85 187.52 165.02 187.99 165.19 188.46 C165.37 188.93 165.54 189.40 165.72 189.87 C165.89 190.34 166.07 190.81 166.24 191.28 C166.42 191.75 166.60 192.22 166.78 192.68 C166.96 193.15 167.14 193.62 167.32 194.09 C167.50 194.56 167.68 195.02 167.86 195.49 C168.05 195.96 168.23 196.43 168.41 196.89 C168.60 197.36 168.78 197.83 168.97 198.30 C169.16 198.76 169.35 199.23 169.54 199.70 C169.72 200.16 169.91 200.63 170.11 201.10 C170.30 201.56 170.49 202.03 170.68 202.49 C170.88 202.96 171.07 203.42 171.27 203.89 C171.46 204.35 171.66 204.82 171.86 205.28 C172.06 205.75 172.26 206.21 172.46 206.68 C172.66 207.14 172.86 207.61 173.06 208.07 C173.27 208.54 173.47 209.00 173.68 209.46 C173.88 209.93 174.09 210.39 174.30 210.85 C174.51 211.32 174.72 211.78 174.93 212.24 C175.14 212.70 175.35 213.16 175.57 213.63 C175.78 214.09 176.00 214.55 176.22 215.00 C176.44 215.46 176.66 215.92 176.88 216.37 C177.11 216.83 177.33 217.28 177.56 217.74 C177.79 218.19 178.02 218.64 178.25 219.09 C178.49 219.54 178.72 219.98 178.96 220.43 C179.20 220.87 179.44 221.31 179.69 221.75 C179.94 222.19 180.18 222.62 180.44 223.06 C180.69 223.49 180.94 223.92 181.20 224.35 C181.46 224.78 181.72 225.20 181.99 225.62 C182.26 226.04 182.53 226.46 182.80 226.87 C183.07 227.28 183.35 227.69 183.63 228.10 C183.92 228.50 184.20 228.90 184.49 229.30 C184.79 229.70 185.08 230.09 185.38 230.48 C185.68 230.87 185.99 231.25 186.30 231.63 C186.61 232.00 186.92 232.38 187.24 232.75 C187.56 233.11 187.89 233.48 188.22 233.83 C188.55 234.19 188.88 234.54 189.22 234.89 C189.56 235.24 189.91 235.58 190.26 235.91 C190.61 236.24 190.97 236.57 191.34 236.89 C191.70 237.21 192.07 237.53 192.45 237.84 C192.82 238.15 193.21 238.45 193.59 238.74 C193.98 239.04 194.38 239.33 194.78 239.61 C195.18 239.89 195.59 240.16 196.01 240.43 C196.42 240.70 196.84 240.96 197.27 241.21 C197.70 241.46 198.13 241.70 198.57 241.94 C199.01 242.18 199.45 242.41 199.90 242.63 C200.35 242.85 200.80 243.07 201.26 243.28 C201.72 243.48 202.18 243.68 202.65 243.88 C203.12 244.07 203.59 244.25 204.07 244.43 C204.54 244.61 205.02 244.78 205.50 244.94 C205.99 245.11 206.47 245.26 206.96 245.41 C207.45 245.56 207.94 245.70 208.44 245.83 C208.93 245.96 209.43 246.09 209.93 246.21 C210.43 246.32 210.93 246.43 211.44 246.54 C211.94 246.64 212.45 246.73 212.95 246.82 C213.46 246.91 213.97 246.99 214.47 247.06 C214.98 247.13 215.49 247.20 216.00 247.26 C216.51 247.32 217.02 247.37 217.53 247.42 C218.05 247.47 218.56 247.51 219.07 247.56 C219.58 247.60 220.09 247.64 220.60 247.68 C221.11 247.72 221.62 247.75 222.13 247.79 C222.64 247.83 223.15 247.86 223.65 247.90 C224.16 247.94 224.66 247.98 225.17 248.02 C225.67 248.06 226.17 248.11 226.67 248.16 C227.17 248.21 227.67 248.26 228.17 248.32 C228.66 248.38 229.16 248.45 229.65 248.52 C230.14 248.59 230.63 248.67 231.11 248.76 C231.60 248.85 232.08 248.95 232.56 249.05 C233.04 249.16 233.51 249.28 233.99 249.41 C234.46 249.53 234.93 249.67 235.39 249.82 C235.86 249.97 236.32 250.12 236.78 250.29 C237.24 250.45 237.69 250.63 238.14 250.81 C238.60 250.99 239.05 251.18 239.49 251.38 C239.94 251.58 240.39 251.79 240.83 252.00 C241.27 252.22 241.71 252.44 242.15 252.67 C242.58 252.89 243.02 253.13 243.45 253.37 C243.89 253.61 244.32 253.86 244.75 254.11 C245.17 254.36 245.60 254.62 246.03 254.88 C246.45 255.15 246.87 255.41 247.30 255.69 C247.72 255.96 248.14 256.24 248.56 256.52 C248.98 256.80 249.39 257.08 249.81 257.37 C250.23 257.66 250.64 257.95 251.05 258.24 C251.47 258.54 251.88 258.83 252.29 259.13 C252.70 259.43 253.12 259.73 253.53 260.03 C253.94 260.33 254.35 260.64 254.76 260.94 C255.16 261.25 255.57 261.55 255.98 261.86 C256.39 262.17 256.80 262.47 257.21 262.78 C257.61 263.09 258.02 263.39 258.43 263.70 C258.84 264.00 259.25 264.31 259.65 264.61 C260.06 264.92 260.47 265.22 260.88 265.52 C261.29 265.82 261.70 266.12 262.11 266.42 C262.52 266.71 262.93 267.01 263.34 267.30 C263.75 267.59 264.16 267.88 264.57 268.16 C264.99 268.45 265.40 268.73 265.82 269.01 C266.23 269.28 266.65 269.56 267.06 269.83 C267.48 270.09 267.90 270.36 268.32 270.62 C268.74 270.88 269.16 271.13 269.59 271.38 C270.01 271.63 270.43 271.87 270.86 272.10 C271.29 272.34 271.72 272.57 272.15 272.80 C272.58 273.02 273.01 273.24 273.45 273.45 C273.88 273.67 274.32 273.87 274.76 274.07 C275.20 274.27 275.64 274.47 276.08 274.65 C276.53 274.84 276.97 275.02 277.42 275.19 C277.87 275.36 278.32 275.52 278.78 275.68 C279.23 275.84 279.69 275.99 280.15 276.13 C280.61 276.27 281.08 276.40 281.54 276.53 C282.01 276.65 282.48 276.77 282.96 276.88 C283.43 276.99 283.91 277.09 284.39 277.18 C284.87 277.27 285.35 277.35 285.84 277.43 C286.33 277.50 286.82 277.56 287.31 277.62 C287.81 277.67 288.30 277.72 288.80 277.76 C289.31 277.80 289.81 277.84 290.31 277.87 C290.82 277.90 291.33 277.92 291.84 277.94 C292.35 277.96 292.86 277.98 293.37 278.00 C293.88 278.01 294.40 278.02 294.91 278.04 C295.42 278.05 295.94 278.06 296.45 278.08 C296.96 278.09 297.48 278.11 297.99 278.13 C298.50 278.15 299.02 278.17 299.53 278.19 C300.04 278.22 300.55 278.25 301.06 278.28 C301.56 278.32 302.07 278.36 302.57 278.41 C303.08 278.46 303.58 278.51 304.08 278.58 C304.58 278.64 305.07 278.72 305.56 278.80 C306.05 278.89 306.54 278.98 307.03 279.09 C307.51 279.19 307.99 279.31 308.47 279.43 C308.95 279.55 309.43 279.69 309.90 279.83 C310.37 279.97 310.84 280.12 311.31 280.28 C311.78 280.43 312.24 280.60 312.71 280.77 C313.17 280.94 313.63 281.12 314.09 281.30 C314.55 281.49 315.00 281.68 315.46 281.88 C315.91 282.07 316.37 282.28 316.82 282.49 C317.27 282.69 317.72 282.91 318.17 283.12 C318.62 283.34 319.07 283.56 319.51 283.78 C319.96 284.01 320.41 284.24 320.85 284.47 C321.30 284.70 321.74 284.93 322.18 285.17 C322.63 285.41 323.07 285.64 323.51 285.88 C323.96 286.12 324.40 286.37 324.84 286.61 C325.28 286.85 325.73 287.09 326.17 287.34 C326.61 287.58 327.05 287.82 327.50 288.07 C327.94 288.31 328.39 288.55 328.83 288.79 C329.27 289.03 329.72 289.27 330.17 289.51 C330.61 289.75 331.06 289.99 331.51 290.22 C331.96 290.45 332.41 290.69 332.86 290.91 C333.31 291.14 333.76 291.37 334.22 291.59 C334.67 291.81 335.13 292.02 335.59 292.24 C336.05 292.45 336.51 292.66 336.97 292.86 C337.43 293.07 337.89 293.27 338.35 293.47 C338.82 293.66 339.28 293.86 339.75 294.04 C340.22 294.23 340.69 294.42 341.16 294.60 C341.63 294.78 342.10 294.95 342.57 295.12 C343.04 295.29 343.51 295.46 343.99 295.62 C344.46 295.78 344.94 295.94 345.42 296.09 C345.89 296.24 346.37 296.39 346.85 296.53 C347.33 296.68 347.81 296.81 348.29 296.95 C348.77 297.08 349.26 297.21 349.74 297.33 C350.22 297.45 350.71 297.57 351.19 297.68 C351.68 297.79 352.16 297.90 352.65 298.00 C353.14 298.10 353.62 298.19 354.11 298.28 C354.60 298.37 355.09 298.46 355.58 298.54 C356.07 298.62 356.56 298.69 357.05 298.76 C357.54 298.82 358.04 298.88 358.53 298.94 C359.02 299.00 359.51 299.04 360.01 299.09 C360.50 299.13 360.99 299.17 361.49 299.20 C361.98 299.23 362.48 299.26 362.97 299.27 C363.47 299.29 363.96 299.31 364.46 299.31 C364.95 299.32 365.45 299.32 365.95 299.31 C366.44 299.30 366.94 299.29 367.44 299.27 C367.93 299.25 368.43 299.22 368.93 299.19 C369.43 299.15 369.92 299.11 370.42 299.06 C370.92 299.02 371.41 298.96 371.91 298.90 C372.41 298.84 372.91 298.77 373.40 298.69 C373.90 298.62 374.40 298.54 374.90 298.45 C375.39 298.37 375.89 298.28 376.39 298.19 C376.88 298.10 377.38 298.00 377.88 297.90 C378.38 297.81 378.87 297.70 379.37 297.60 C379.87 297.50 380.36 297.40 380.86 297.30 C381.36 297.20 381.85 297.10 382.35 297.00 C382.85 296.90 383.34 296.80 383.84 296.71 C384.34 296.61 384.83 296.52 385.33 296.43 C385.83 296.34 386.32 296.26 386.82 296.18 C387.31 296.10 387.81 296.02 388.31 295.95 C388.80 295.89 389.30 295.82 389.79 295.77 C390.29 295.72 390.78 295.67 391.28 295.63 C391.77 295.59 392.27 295.56 392.76 295.54 C393.26 295.52 393.75 295.51 394.24 295.51 C394.74 295.51 395.23 295.52 395.73 295.53 C396.22 295.55 396.71 295.58 397.21 295.61 C397.70 295.64 398.19 295.69 398.69 295.74 C399.18 295.78 399.67 295.84 400.17 295.90 C400.66 295.97 401.15 296.04 401.64 296.11 C402.13 296.19 402.63 296.27 403.12 296.35 C403.61 296.44 404.10 296.53 404.59 296.62 C405.08 296.72 405.57 296.82 406.06 296.92 C406.56 297.02 407.05 297.13 407.54 297.24 C408.03 297.35 408.52 297.46 409.00 297.58 C409.49 297.69 409.98 297.81 410.47 297.93 C410.96 298.05 411.45 298.17 411.94 298.29 C412.43 298.41 412.91 298.53 413.40 298.65 C413.89 298.78 414.38 298.90 414.87 299.02 C415.35 299.15 415.84 299.27 416.33 299.40 C416.81 299.52 417.30 299.65 417.79 299.77 C418.27 299.90 418.76 300.02 419.25 300.15 C419.73 300.28 420.22 300.40 420.71 300.53 C421.19 300.65 421.68 300.78 422.17 300.90 C422.65 301.03 423.14 301.15 423.62 301.28 C424.11 301.40 424.60 301.52 425.08 301.65 C425.57 301.77 426.05 301.89 426.54 302.01 C427.03 302.13 427.51 302.25 428.00 302.37 C428.49 302.49 428.97 302.61 429.46 302.72 C429.95 302.84 430.43 302.95 430.92 303.06 C431.41 303.18 431.89 303.29 432.38 303.40 C432.87 303.51 433.36 303.61 433.85 303.72 C434.33 303.82 434.82 303.93 435.31 304.03 C435.80 304.13 436.29 304.23 436.78 304.32 C437.26 304.42 437.75 304.51 438.24 304.61 C438.73 304.70 439.22 304.79 439.71 304.87 C440.20 304.96 440.70 305.04 441.19 305.12 C441.68 305.20 442.17 305.28 442.66 305.35 C443.15 305.42 443.65 305.49 444.14 305.56 C444.63 305.63 445.13 305.69 445.62 305.75 C446.11 305.81 446.61 305.86 447.10 305.92 C447.60 305.97 448.09 306.02 448.59 306.06 C449.09 306.10 449.58 306.14 450.08 306.18 C450.58 306.22 451.08 306.25 451.57 306.28 C452.07 306.30 452.57 306.33 453.07 306.35 C453.57 306.37 454.07 306.39 454.57 306.41 C455.07 306.42 455.57 306.44 456.07 306.45 C456.57 306.46 457.07 306.47 457.58 306.47 C458.08 306.48 458.58 306.48 459.08 306.49 C459.58 306.49 460.09 306.49 460.59 306.49 C461.09 306.49 461.59 306.49 462.10 306.48 C462.60 306.48 463.10 306.48 463.61 306.47 C464.11 306.47 464.61 306.47 465.12 306.46 C465.62 306.46 466.12 306.45 466.63 306.45 C467.13 306.44 467.63 306.44 468.14 306.43 C468.64 306.43 469.14 306.43 469.65 306.42 C470.15 306.42 470.65 306.42 471.15 306.42 C471.66 306.42 472.16 306.42 472.66 306.43 C473.16 306.43 473.66 306.43 474.17 306.44 C474.67 306.45 475.17 306.46 475.67 306.47 C476.17 306.48 476.67 306.49 477.17 306.51 C477.67 306.53 478.17 306.54 478.67 306.57 C479.17 306.59 479.67 306.62 480.17 306.65 C480.67 306.67 481.17 306.71 481.66 306.74 C482.16 306.78 482.66 306.82 483.15 306.87 C483.65 306.91 484.14 306.96 484.64 307.02 C485.13 307.07 485.63 307.13 486.12 307.19 C486.62 307.26 487.35 307.37 487.60 307.40 L487.60 311.30 Z" fill="rgba(102,165,61,0.49)" stroke="#5a9e2c" stroke-width="1.7" stroke-linejoin="round"/>
<path d="M53.90 311.30 L66.00 311.30 C66.22 311.28 66.86 311.20 67.31 311.16 C67.77 311.12 68.24 311.09 68.72 311.06 C69.20 311.03 69.70 311.01 70.21 310.99 C70.71 310.97 71.23 310.96 71.75 310.94 C72.27 310.92 72.80 310.90 73.33 310.87 C73.86 310.85 74.39 310.82 74.93 310.79 C75.46 310.75 76.00 310.71 76.53 310.66 C77.07 310.61 77.60 310.55 78.12 310.47 C78.65 310.39 79.17 310.31 79.68 310.20 C80.19 310.10 80.70 309.98 81.19 309.84 C81.68 309.70 82.16 309.55 82.62 309.37 C83.09 309.19 83.54 308.99 83.98 308.77 C84.41 308.54 84.84 308.30 85.25 308.04 C85.66 307.79 86.06 307.51 86.44 307.22 C86.83 306.92 87.21 306.61 87.57 306.29 C87.94 305.97 88.29 305.63 88.63 305.28 C88.98 304.93 89.31 304.57 89.64 304.20 C89.97 303.83 90.29 303.44 90.60 303.05 C90.91 302.66 91.21 302.26 91.51 301.86 C91.80 301.45 92.09 301.04 92.38 300.62 C92.66 300.20 92.94 299.78 93.21 299.36 C93.49 298.93 93.75 298.50 94.02 298.08 C94.28 297.65 94.55 297.22 94.80 296.78 C95.06 296.35 95.31 295.92 95.56 295.49 C95.81 295.05 96.06 294.61 96.30 294.18 C96.54 293.74 96.78 293.30 97.02 292.86 C97.25 292.42 97.48 291.98 97.71 291.53 C97.94 291.09 98.16 290.65 98.38 290.20 C98.60 289.75 98.82 289.31 99.04 288.86 C99.25 288.41 99.46 287.96 99.67 287.51 C99.88 287.06 100.08 286.61 100.28 286.15 C100.48 285.70 100.68 285.24 100.87 284.79 C101.07 284.33 101.26 283.88 101.45 283.42 C101.64 282.96 101.82 282.50 102.01 282.04 C102.19 281.58 102.37 281.12 102.55 280.65 C102.72 280.19 102.90 279.73 103.07 279.26 C103.24 278.80 103.41 278.33 103.58 277.86 C103.74 277.40 103.91 276.93 104.07 276.46 C104.23 275.99 104.39 275.52 104.54 275.05 C104.70 274.58 104.85 274.11 105.00 273.64 C105.16 273.16 105.30 272.69 105.45 272.22 C105.60 271.74 105.74 271.27 105.89 270.79 C106.03 270.32 106.17 269.84 106.31 269.36 C106.44 268.88 106.58 268.41 106.71 267.93 C106.85 267.45 106.98 266.97 107.11 266.49 C107.24 266.01 107.37 265.53 107.50 265.04 C107.62 264.56 107.75 264.08 107.87 263.60 C107.99 263.11 108.12 262.63 108.24 262.14 C108.36 261.66 108.47 261.18 108.59 260.69 C108.71 260.20 108.82 259.72 108.94 259.23 C109.05 258.75 109.16 258.26 109.27 257.77 C109.38 257.28 109.49 256.80 109.60 256.31 C109.71 255.82 109.82 255.33 109.92 254.84 C110.03 254.35 110.14 253.86 110.24 253.37 C110.34 252.88 110.45 252.39 110.55 251.90 C110.65 251.41 110.75 250.92 110.85 250.43 C110.95 249.94 111.05 249.44 111.15 248.95 C111.25 248.46 111.34 247.97 111.44 247.48 C111.54 246.98 111.63 246.49 111.73 246.00 C111.83 245.51 111.92 245.01 112.01 244.52 C112.11 244.03 112.20 243.53 112.30 243.04 C112.39 242.55 112.48 242.05 112.58 241.56 C112.67 241.07 112.76 240.57 112.85 240.08 C112.95 239.59 113.04 239.09 113.13 238.60 C113.22 238.11 113.31 237.61 113.40 237.12 C113.50 236.62 113.59 236.13 113.68 235.64 C113.77 235.14 113.86 234.65 113.95 234.16 C114.04 233.66 114.13 233.17 114.22 232.67 C114.31 232.18 114.40 231.69 114.49 231.19 C114.58 230.70 114.67 230.20 114.76 229.71 C114.85 229.22 114.94 228.72 115.02 228.23 C115.11 227.73 115.20 227.24 115.29 226.75 C115.38 226.25 115.47 225.76 115.55 225.26 C115.64 224.77 115.73 224.28 115.82 223.78 C115.90 223.29 115.99 222.79 116.08 222.30 C116.17 221.81 116.25 221.31 116.34 220.82 C116.43 220.32 116.51 219.83 116.60 219.33 C116.68 218.84 116.77 218.35 116.86 217.85 C116.94 217.36 117.03 216.86 117.11 216.37 C117.20 215.87 117.28 215.38 117.37 214.89 C117.45 214.39 117.54 213.90 117.62 213.40 C117.71 212.91 117.79 212.41 117.88 211.92 C117.96 211.43 118.05 210.93 118.13 210.44 C118.21 209.94 118.30 209.45 118.38 208.95 C118.47 208.46 118.55 207.96 118.63 207.47 C118.72 206.98 118.80 206.48 118.88 205.99 C118.97 205.49 119.05 205.00 119.13 204.50 C119.21 204.01 119.30 203.51 119.38 203.02 C119.46 202.53 119.54 202.03 119.63 201.54 C119.71 201.04 119.79 200.55 119.87 200.05 C119.95 199.56 120.04 199.06 120.12 198.57 C120.20 198.07 120.28 197.58 120.36 197.09 C120.44 196.59 120.52 196.10 120.60 195.60 C120.68 195.11 120.77 194.61 120.85 194.12 C120.93 193.62 121.01 193.13 121.09 192.63 C121.17 192.14 121.25 191.65 121.33 191.15 C121.41 190.66 121.49 190.16 121.57 189.67 C121.65 189.17 121.73 188.68 121.81 188.18 C121.89 187.69 121.97 187.19 122.05 186.70 C122.12 186.20 122.20 185.71 122.28 185.22 C122.36 184.72 122.44 184.23 122.52 183.73 C122.60 183.24 122.68 182.74 122.76 182.25 C122.83 181.75 122.91 181.26 122.99 180.76 C123.07 180.27 123.15 179.77 123.23 179.28 C123.30 178.79 123.38 178.29 123.46 177.80 C123.54 177.30 123.62 176.81 123.69 176.31 C123.77 175.82 123.85 175.32 123.93 174.83 C124.00 174.33 124.08 173.84 124.16 173.34 C124.24 172.85 124.31 172.36 124.39 171.86 C124.47 171.37 124.54 170.87 124.62 170.38 C124.70 169.88 124.78 169.39 124.85 168.89 C124.93 168.40 125.01 167.91 125.08 167.41 C125.16 166.92 125.23 166.42 125.31 165.93 C125.39 165.43 125.46 164.94 125.54 164.44 C125.62 163.95 125.69 163.45 125.77 162.96 C125.84 162.47 125.92 161.97 126.00 161.48 C126.07 160.98 126.15 160.49 126.22 159.99 C126.30 159.50 126.38 159.01 126.45 158.51 C126.53 158.02 126.60 157.52 126.68 157.03 C126.75 156.53 126.83 156.04 126.90 155.55 C126.98 155.05 127.06 154.56 127.13 154.06 C127.21 153.57 127.28 153.07 127.36 152.58 C127.43 152.09 127.51 151.59 127.58 151.10 C127.66 150.60 127.73 150.11 127.81 149.61 C127.88 149.12 127.96 148.63 128.03 148.13 C128.11 147.64 128.18 147.14 128.26 146.65 C128.33 146.16 128.41 145.66 128.48 145.17 C128.55 144.67 128.63 144.18 128.70 143.69 C128.78 143.19 128.85 142.70 128.93 142.20 C129.00 141.71 129.08 141.22 129.15 140.72 C129.23 140.23 129.30 139.73 129.37 139.24 C129.45 138.75 129.52 138.25 129.60 137.76 C129.67 137.27 129.75 136.77 129.82 136.28 C129.89 135.78 129.97 135.29 130.04 134.80 C130.12 134.30 130.19 133.81 130.27 133.32 C130.34 132.82 130.41 132.33 130.49 131.84 C130.56 131.34 130.64 130.85 130.71 130.36 C130.79 129.86 130.86 129.37 130.93 128.87 C131.01 128.38 131.08 127.89 131.16 127.39 C131.23 126.90 131.31 126.41 131.38 125.91 C131.45 125.42 131.53 124.93 131.60 124.43 C131.68 123.94 131.75 123.45 131.82 122.96 C131.90 122.46 131.97 121.97 132.05 121.48 C132.12 120.98 132.20 120.49 132.27 120.00 C132.34 119.50 132.42 119.01 132.49 118.52 C132.57 118.02 132.64 117.53 132.71 117.04 C132.79 116.55 132.86 116.05 132.94 115.56 C133.01 115.07 133.09 114.57 133.16 114.08 C133.24 113.59 133.31 113.10 133.38 112.60 C133.46 112.11 133.53 111.62 133.61 111.13 C133.68 110.63 133.76 110.14 133.83 109.65 C133.91 109.16 133.98 108.66 134.05 108.17 C134.13 107.68 134.20 107.19 134.28 106.69 C134.35 106.20 134.43 105.71 134.50 105.22 C134.58 104.72 134.65 104.23 134.73 103.74 C134.80 103.25 134.88 102.76 134.95 102.26 C135.03 101.77 135.10 101.28 135.18 100.79 C135.25 100.30 135.33 99.80 135.40 99.31 C135.48 98.82 135.55 98.33 135.63 97.84 C135.70 97.35 135.78 96.85 135.85 96.36 C135.93 95.87 136.00 95.38 136.08 94.89 C136.16 94.40 136.23 93.90 136.31 93.41 C136.38 92.92 136.46 92.43 136.54 91.94 C136.61 91.45 136.69 90.95 136.77 90.46 C136.85 89.97 136.92 89.48 137.00 88.99 C137.08 88.50 137.16 88.01 137.23 87.51 C137.31 87.02 137.39 86.53 137.47 86.04 C137.55 85.55 137.63 85.06 137.71 84.57 C137.79 84.08 137.87 83.59 137.95 83.09 C138.03 82.60 138.11 82.11 138.19 81.62 C138.27 81.13 138.36 80.64 138.44 80.15 C138.52 79.66 138.60 79.17 138.69 78.67 C138.77 78.18 138.85 77.69 138.94 77.20 C139.02 76.71 139.11 76.22 139.19 75.73 C139.28 75.24 139.37 74.75 139.45 74.26 C139.54 73.76 139.63 73.27 139.72 72.78 C139.80 72.29 139.89 71.80 139.98 71.31 C140.07 70.82 140.16 70.33 140.25 69.84 C140.35 69.35 140.44 68.86 140.53 68.36 C140.62 67.87 140.72 67.38 140.81 66.89 C140.90 66.40 141.00 65.91 141.09 65.42 C141.19 64.93 141.29 64.44 141.38 63.95 C141.48 63.46 141.58 62.97 141.68 62.47 C141.78 61.98 141.88 61.49 141.98 61.00 C142.08 60.51 142.18 60.02 142.28 59.53 C142.39 59.04 142.49 58.55 142.60 58.06 C142.70 57.57 142.81 57.07 142.91 56.58 C143.02 56.09 143.13 55.60 143.24 55.11 C143.35 54.62 143.46 54.13 143.57 53.64 C143.68 53.15 143.79 52.66 143.90 52.16 C144.02 51.67 144.13 51.18 144.25 50.69 C144.36 50.20 144.48 49.71 144.60 49.22 C144.71 48.73 144.83 48.24 144.95 47.74 C145.07 47.25 145.20 46.76 145.32 46.27 C145.44 45.78 145.57 45.29 145.69 44.80 C145.82 44.31 145.94 43.81 146.07 43.32 C146.20 42.83 146.33 42.34 146.46 41.85 C146.59 41.36 146.73 40.87 146.86 40.38 C147.00 39.89 147.14 39.40 147.29 38.92 C147.44 38.44 147.59 37.95 147.75 37.48 C147.91 37.00 148.08 36.52 148.25 36.05 C148.43 35.58 148.61 35.12 148.80 34.65 C148.99 34.19 149.19 33.74 149.40 33.29 C149.62 32.84 149.84 32.39 150.07 31.96 C150.31 31.52 150.55 31.09 150.81 30.67 C151.07 30.24 151.35 29.83 151.63 29.42 C151.92 29.01 152.23 28.62 152.54 28.23 C152.86 27.84 153.20 27.46 153.55 27.09 C153.91 26.73 154.28 26.34 154.66 26.03 C155.05 25.72 155.46 25.41 155.88 25.23 C156.30 25.06 156.74 24.95 157.18 24.97 C157.63 24.99 158.10 25.16 158.54 25.37 C158.99 25.58 159.44 25.90 159.86 26.21 C160.28 26.53 160.67 26.90 161.04 27.27 C161.41 27.64 161.74 28.03 162.07 28.43 C162.39 28.83 162.69 29.24 162.98 29.66 C163.28 30.08 163.55 30.51 163.82 30.94 C164.09 31.37 164.35 31.80 164.61 32.23 C164.86 32.67 165.11 33.11 165.35 33.54 C165.59 33.98 165.82 34.43 166.05 34.87 C166.28 35.31 166.50 35.76 166.71 36.21 C166.93 36.66 167.14 37.11 167.34 37.56 C167.55 38.01 167.75 38.46 167.94 38.92 C168.14 39.37 168.33 39.83 168.51 40.29 C168.70 40.75 168.88 41.21 169.06 41.67 C169.24 42.13 169.42 42.59 169.59 43.06 C169.77 43.52 169.94 43.99 170.11 44.45 C170.28 44.92 170.44 45.39 170.61 45.86 C170.78 46.32 170.94 46.79 171.11 47.26 C171.27 47.73 171.43 48.20 171.60 48.68 C171.76 49.15 171.92 49.62 172.08 50.09 C172.25 50.56 172.41 51.03 172.57 51.51 C172.74 51.98 172.90 52.45 173.07 52.93 C173.23 53.40 173.39 53.87 173.56 54.35 C173.72 54.82 173.89 55.30 174.05 55.77 C174.22 56.24 174.38 56.72 174.55 57.19 C174.71 57.67 174.88 58.15 175.04 58.62 C175.21 59.10 175.37 59.57 175.54 60.05 C175.70 60.52 175.87 61.00 176.03 61.48 C176.20 61.95 176.37 62.43 176.53 62.90 C176.70 63.38 176.86 63.86 177.03 64.33 C177.19 64.81 177.36 65.29 177.53 65.76 C177.69 66.24 177.86 66.71 178.03 67.19 C178.19 67.67 178.36 68.14 178.52 68.62 C178.69 69.10 178.86 69.57 179.02 70.05 C179.19 70.52 179.36 71.00 179.52 71.48 C179.69 71.95 179.85 72.43 180.02 72.90 C180.19 73.38 180.35 73.85 180.52 74.33 C180.69 74.80 180.85 75.28 181.02 75.75 C181.18 76.22 181.35 76.70 181.52 77.17 C181.68 77.65 181.85 78.12 182.02 78.59 C182.18 79.07 182.35 79.54 182.51 80.01 C182.68 80.48 182.85 80.96 183.01 81.43 C183.18 81.90 183.35 82.37 183.51 82.85 C183.68 83.32 183.84 83.79 184.01 84.26 C184.18 84.73 184.34 85.20 184.51 85.68 C184.67 86.15 184.84 86.62 185.01 87.09 C185.17 87.56 185.34 88.03 185.50 88.50 C185.67 88.97 185.84 89.44 186.00 89.91 C186.17 90.38 186.33 90.85 186.50 91.32 C186.67 91.79 186.83 92.26 187.00 92.73 C187.16 93.20 187.33 93.67 187.50 94.14 C187.66 94.61 187.83 95.08 187.99 95.55 C188.16 96.02 188.33 96.49 188.49 96.96 C188.66 97.43 188.82 97.90 188.99 98.37 C189.15 98.84 189.32 99.31 189.49 99.77 C189.65 100.24 189.82 100.71 189.98 101.18 C190.15 101.65 190.32 102.12 190.48 102.59 C190.65 103.06 190.81 103.52 190.98 103.99 C191.14 104.46 191.31 104.93 191.48 105.40 C191.64 105.87 191.81 106.34 191.97 106.81 C192.14 107.27 192.31 107.74 192.47 108.21 C192.64 108.68 192.80 109.15 192.97 109.62 C193.14 110.09 193.30 110.55 193.47 111.02 C193.63 111.49 193.80 111.96 193.96 112.43 C194.13 112.90 194.30 113.37 194.46 113.84 C194.63 114.30 194.79 114.77 194.96 115.24 C195.13 115.71 195.29 116.18 195.46 116.65 C195.62 117.12 195.79 117.59 195.96 118.06 C196.12 118.53 196.29 119.00 196.45 119.47 C196.62 119.93 196.79 120.40 196.95 120.87 C197.12 121.34 197.28 121.81 197.45 122.28 C197.62 122.75 197.78 123.22 197.95 123.69 C198.11 124.16 198.28 124.63 198.45 125.10 C198.61 125.57 198.78 126.04 198.94 126.52 C199.11 126.99 199.28 127.46 199.44 127.93 C199.61 128.40 199.77 128.87 199.94 129.34 C200.11 129.81 200.27 130.28 200.44 130.76 C200.60 131.23 200.77 131.70 200.94 132.17 C201.10 132.64 201.27 133.12 201.44 133.59 C201.60 134.06 201.77 134.53 201.93 135.01 C202.10 135.48 202.27 135.95 202.43 136.42 C202.60 136.90 202.77 137.37 202.93 137.85 C203.10 138.32 203.26 138.79 203.43 139.27 C203.60 139.74 203.76 140.22 203.93 140.69 C204.10 141.17 204.26 141.64 204.43 142.12 C204.60 142.59 204.76 143.07 204.93 143.54 C205.10 144.02 205.26 144.50 205.43 144.97 C205.60 145.45 205.76 145.92 205.93 146.40 C206.10 146.88 206.26 147.36 206.43 147.83 C206.60 148.31 206.76 148.79 206.93 149.27 C207.10 149.75 207.26 150.23 207.43 150.70 C207.60 151.18 207.76 151.66 207.93 152.14 C208.10 152.62 208.26 153.10 208.43 153.58 C208.60 154.06 208.77 154.54 208.94 155.02 C209.11 155.50 209.28 155.98 209.45 156.46 C209.62 156.93 209.80 157.41 209.97 157.89 C210.15 158.36 210.32 158.84 210.50 159.31 C210.68 159.79 210.86 160.26 211.05 160.73 C211.23 161.20 211.42 161.67 211.61 162.13 C211.80 162.60 212.00 163.06 212.19 163.53 C212.39 163.99 212.59 164.45 212.80 164.91 C213.00 165.36 213.21 165.82 213.42 166.27 C213.64 166.72 213.85 167.17 214.07 167.61 C214.30 168.06 214.52 168.50 214.76 168.94 C214.99 169.38 215.23 169.81 215.47 170.24 C215.71 170.67 215.96 171.10 216.22 171.52 C216.47 171.94 216.73 172.36 217.00 172.77 C217.27 173.19 217.54 173.59 217.82 174.00 C218.10 174.40 218.39 174.80 218.68 175.19 C218.98 175.59 219.28 175.98 219.58 176.37 C219.89 176.75 220.20 177.13 220.51 177.51 C220.83 177.89 221.15 178.27 221.47 178.64 C221.80 179.01 222.13 179.38 222.46 179.75 C222.79 180.12 223.13 180.48 223.47 180.84 C223.81 181.20 224.15 181.56 224.50 181.92 C224.85 182.28 225.19 182.63 225.55 182.99 C225.90 183.34 226.25 183.69 226.61 184.04 C226.96 184.40 227.32 184.74 227.68 185.09 C228.04 185.44 228.40 185.79 228.76 186.14 C229.12 186.49 229.48 186.84 229.84 187.19 C230.20 187.53 230.57 187.88 230.93 188.23 C231.29 188.58 231.65 188.93 232.01 189.28 C232.37 189.63 232.73 189.98 233.09 190.33 C233.45 190.68 233.81 191.04 234.16 191.39 C234.52 191.74 234.87 192.10 235.22 192.46 C235.58 192.81 235.93 193.17 236.28 193.53 C236.63 193.89 236.98 194.25 237.33 194.61 C237.68 194.97 238.03 195.33 238.38 195.69 C238.72 196.05 239.07 196.41 239.42 196.78 C239.76 197.14 240.11 197.50 240.45 197.87 C240.80 198.23 241.14 198.60 241.48 198.96 C241.83 199.33 242.17 199.69 242.51 200.06 C242.85 200.43 243.20 200.79 243.54 201.16 C243.88 201.53 244.22 201.89 244.56 202.26 C244.90 202.63 245.24 202.99 245.58 203.36 C245.93 203.73 246.27 204.09 246.61 204.46 C246.95 204.83 247.29 205.19 247.63 205.56 C247.97 205.93 248.31 206.29 248.65 206.66 C248.99 207.03 249.33 207.39 249.67 207.76 C250.01 208.12 250.35 208.49 250.70 208.85 C251.04 209.22 251.38 209.58 251.72 209.95 C252.07 210.31 252.41 210.67 252.75 211.04 C253.10 211.40 253.44 211.76 253.78 212.12 C254.13 212.48 254.48 212.84 254.82 213.20 C255.17 213.56 255.52 213.92 255.86 214.28 C256.21 214.64 256.56 214.99 256.91 215.35 C257.26 215.70 257.61 216.06 257.96 216.41 C258.31 216.76 258.67 217.12 259.02 217.47 C259.37 217.82 259.73 218.17 260.09 218.52 C260.44 218.86 260.80 219.21 261.16 219.56 C261.52 219.90 261.88 220.24 262.24 220.59 C262.60 220.93 262.97 221.27 263.33 221.61 C263.70 221.95 264.06 222.29 264.43 222.62 C264.80 222.96 265.17 223.29 265.54 223.62 C265.91 223.95 266.28 224.29 266.66 224.61 C267.04 224.94 267.41 225.27 267.79 225.59 C268.17 225.92 268.55 226.24 268.93 226.56 C269.32 226.88 269.70 227.19 270.09 227.51 C270.48 227.82 270.87 228.13 271.26 228.44 C271.65 228.74 272.05 229.05 272.44 229.35 C272.84 229.65 273.24 229.95 273.64 230.24 C274.04 230.53 274.45 230.82 274.86 231.11 C275.26 231.39 275.67 231.67 276.09 231.95 C276.50 232.23 276.91 232.50 277.33 232.77 C277.75 233.03 278.17 233.29 278.60 233.55 C279.02 233.81 279.45 234.06 279.88 234.31 C280.31 234.55 280.74 234.79 281.18 235.03 C281.62 235.26 282.06 235.49 282.50 235.72 C282.95 235.94 283.40 236.16 283.85 236.37 C284.30 236.58 284.75 236.78 285.21 236.98 C285.67 237.18 286.13 237.37 286.60 237.55 C287.06 237.74 287.53 237.92 288.00 238.09 C288.47 238.27 288.94 238.44 289.42 238.60 C289.89 238.77 290.37 238.93 290.85 239.10 C291.33 239.26 291.81 239.42 292.29 239.57 C292.77 239.73 293.25 239.89 293.73 240.04 C294.21 240.20 294.69 240.36 295.17 240.51 C295.65 240.67 296.13 240.83 296.61 240.99 C297.09 241.15 297.57 241.31 298.05 241.47 C298.52 241.64 299.00 241.80 299.47 241.97 C299.95 242.14 300.42 242.32 300.89 242.50 C301.36 242.68 301.82 242.86 302.29 243.06 C302.75 243.25 303.21 243.44 303.66 243.65 C304.12 243.85 304.57 244.07 305.02 244.28 C305.47 244.50 305.91 244.73 306.36 244.96 C306.80 245.19 307.24 245.43 307.67 245.67 C308.11 245.91 308.54 246.16 308.97 246.41 C309.40 246.67 309.83 246.92 310.26 247.18 C310.68 247.44 311.11 247.71 311.53 247.98 C311.96 248.24 312.38 248.51 312.80 248.78 C313.22 249.05 313.64 249.33 314.06 249.60 C314.48 249.88 314.90 250.15 315.32 250.43 C315.74 250.70 316.15 250.98 316.57 251.26 C316.99 251.53 317.41 251.81 317.83 252.08 C318.25 252.35 318.67 252.63 319.09 252.90 C319.52 253.17 319.94 253.44 320.37 253.70 C320.79 253.97 321.22 254.23 321.65 254.49 C322.07 254.75 322.51 255.00 322.94 255.25 C323.37 255.50 323.81 255.75 324.25 255.99 C324.68 256.23 325.12 256.47 325.57 256.70 C326.01 256.93 326.45 257.16 326.90 257.39 C327.35 257.62 327.80 257.84 328.25 258.06 C328.70 258.27 329.15 258.49 329.60 258.70 C330.06 258.91 330.51 259.12 330.97 259.32 C331.43 259.53 331.88 259.73 332.34 259.93 C332.80 260.13 333.26 260.32 333.73 260.52 C334.19 260.71 334.65 260.90 335.12 261.09 C335.58 261.28 336.05 261.46 336.51 261.65 C336.98 261.83 337.45 262.01 337.91 262.19 C338.38 262.37 338.85 262.54 339.32 262.72 C339.79 262.89 340.26 263.06 340.73 263.24 C341.20 263.41 341.67 263.58 342.14 263.74 C342.61 263.91 343.08 264.08 343.55 264.24 C344.02 264.41 344.49 264.57 344.96 264.74 C345.44 264.90 345.91 265.07 346.38 265.23 C346.85 265.39 347.32 265.56 347.79 265.72 C348.26 265.88 348.73 266.05 349.20 266.21 C349.67 266.38 350.14 266.54 350.61 266.71 C351.08 266.88 351.55 267.05 352.02 267.22 C352.49 267.39 352.95 267.56 353.42 267.74 C353.89 267.91 354.35 268.09 354.82 268.27 C355.29 268.45 355.75 268.63 356.22 268.82 C356.68 269.00 357.14 269.19 357.60 269.38 C358.07 269.57 358.53 269.77 358.99 269.97 C359.45 270.17 359.91 270.37 360.37 270.57 C360.83 270.78 361.29 270.98 361.74 271.19 C362.20 271.40 362.66 271.61 363.12 271.82 C363.57 272.03 364.03 272.24 364.49 272.45 C364.94 272.66 365.40 272.87 365.86 273.08 C366.32 273.30 366.77 273.51 367.23 273.71 C367.69 273.92 368.14 274.13 368.60 274.34 C369.06 274.54 369.52 274.75 369.98 274.95 C370.44 275.15 370.90 275.35 371.36 275.55 C371.82 275.74 372.28 275.94 372.74 276.13 C373.21 276.32 373.67 276.50 374.13 276.68 C374.60 276.86 375.07 277.04 375.53 277.21 C376.00 277.38 376.47 277.55 376.94 277.70 C377.41 277.86 377.88 278.02 378.35 278.17 C378.83 278.32 379.30 278.46 379.78 278.60 C380.25 278.74 380.73 278.87 381.21 279.00 C381.69 279.13 382.17 279.25 382.65 279.37 C383.13 279.49 383.61 279.61 384.10 279.72 C384.58 279.83 385.06 279.94 385.55 280.04 C386.03 280.15 386.52 280.25 387.01 280.34 C387.49 280.44 387.98 280.53 388.47 280.62 C388.96 280.72 389.45 280.80 389.94 280.89 C390.43 280.97 390.92 281.05 391.41 281.13 C391.90 281.21 392.40 281.29 392.89 281.37 C393.38 281.44 393.88 281.52 394.37 281.59 C394.87 281.66 395.36 281.73 395.85 281.80 C396.35 281.87 396.85 281.94 397.34 282.00 C397.84 282.07 398.33 282.14 398.83 282.20 C399.33 282.27 399.82 282.33 400.32 282.39 C400.82 282.46 401.31 282.52 401.81 282.58 C402.31 282.65 402.80 282.71 403.30 282.78 C403.80 282.84 404.29 282.90 404.79 282.97 C405.29 283.03 405.78 283.10 406.28 283.17 C406.78 283.23 407.27 283.30 407.77 283.37 C408.27 283.44 408.76 283.51 409.26 283.58 C409.75 283.65 410.25 283.72 410.74 283.80 C411.24 283.88 411.73 283.95 412.23 284.03 C412.72 284.11 413.21 284.19 413.71 284.28 C414.20 284.36 414.69 284.45 415.18 284.53 C415.68 284.62 416.17 284.71 416.66 284.80 C417.15 284.89 417.64 284.99 418.13 285.08 C418.62 285.17 419.11 285.27 419.60 285.37 C420.09 285.47 420.58 285.57 421.07 285.67 C421.56 285.77 422.05 285.88 422.54 285.98 C423.02 286.09 423.51 286.19 424.00 286.30 C424.49 286.41 424.97 286.52 425.46 286.63 C425.95 286.74 426.43 286.85 426.92 286.97 C427.41 287.08 427.89 287.20 428.38 287.31 C428.86 287.43 429.35 287.55 429.84 287.67 C430.32 287.79 430.81 287.91 431.29 288.03 C431.77 288.15 432.26 288.27 432.74 288.40 C433.23 288.52 433.71 288.65 434.19 288.77 C434.68 288.90 435.16 289.03 435.64 289.15 C436.13 289.28 436.61 289.41 437.09 289.54 C437.58 289.67 438.06 289.80 438.54 289.94 C439.02 290.07 439.50 290.20 439.99 290.33 C440.47 290.47 440.95 290.60 441.43 290.74 C441.91 290.87 442.39 291.01 442.88 291.15 C443.36 291.28 443.84 291.42 444.32 291.56 C444.80 291.70 445.28 291.84 445.76 291.98 C446.24 292.11 446.72 292.25 447.20 292.39 C447.68 292.54 448.16 292.68 448.64 292.82 C449.12 292.96 449.60 293.10 450.08 293.24 C450.56 293.38 451.04 293.53 451.52 293.67 C452.00 293.81 452.48 293.95 452.96 294.10 C453.44 294.24 453.92 294.38 454.40 294.53 C454.88 294.67 455.36 294.82 455.84 294.96 C456.32 295.10 456.80 295.25 457.28 295.39 C457.76 295.53 458.24 295.68 458.72 295.82 C459.20 295.97 459.68 296.11 460.16 296.25 C460.64 296.40 461.11 296.54 461.59 296.69 C462.07 296.83 462.55 296.97 463.03 297.12 C463.51 297.26 463.99 297.40 464.47 297.54 C464.95 297.69 465.43 297.83 465.91 297.97 C466.39 298.11 466.87 298.25 467.35 298.40 C467.83 298.54 468.31 298.68 468.79 298.82 C469.27 298.96 469.75 299.10 470.23 299.24 C470.71 299.38 471.19 299.52 471.67 299.65 C472.15 299.79 472.64 299.93 473.12 300.07 C473.60 300.20 474.08 300.34 474.56 300.47 C475.04 300.61 475.52 300.74 476.00 300.88 C476.49 301.01 476.97 301.14 477.45 301.28 C477.93 301.41 478.41 301.54 478.89 301.67 C479.38 301.80 479.86 301.93 480.34 302.06 C480.83 302.19 481.31 302.31 481.79 302.44 C482.27 302.57 482.76 302.69 483.24 302.82 C483.72 302.94 484.21 303.06 484.69 303.18 C485.18 303.31 485.66 303.43 486.15 303.55 C486.63 303.67 487.36 303.84 487.60 303.90 L487.60 311.30 Z" fill="rgba(49,75,129,0.5)" stroke="#14326f" stroke-width="1.7" stroke-linejoin="round"/>
<!-- threshold -->
<line x1="71.2" y1="11.3" x2="71.2" y2="324.5" stroke="#4b1a5e" stroke-width="1.9" stroke-dasharray="5.05 3.307"/>
<!-- axes -->
<rect x="31.3" y="11" width="1.9" height="315.6" fill="#000"/>
<rect x="31.3" y="324.7" width="478" height="1.9" fill="#000"/>
<rect x="52.85" y="326" width="1.5" height="4.6" fill="#000"/><rect x="139.63" y="326" width="1.5" height="4.6" fill="#000"/><rect x="226.41" y="326" width="1.5" height="4.6" fill="#000"/><rect x="313.19" y="326" width="1.5" height="4.6" fill="#000"/><rect x="399.97" y="326" width="1.5" height="4.6" fill="#000"/><rect x="486.75" y="326" width="1.5" height="4.6" fill="#000"/>
<g font-size="12" stroke="#1a1a1a" stroke-width="0.25"><text x="45.00" y="346.1" textLength="17.2" lengthAdjust="spacingAndGlyphs">0.0</text><text x="131.78" y="346.1" textLength="17.2" lengthAdjust="spacingAndGlyphs">0.1</text><text x="218.56" y="346.1" textLength="17.2" lengthAdjust="spacingAndGlyphs">0.2</text><text x="305.34" y="346.1" textLength="17.2" lengthAdjust="spacingAndGlyphs">0.3</text><text x="392.12" y="346.1" textLength="17.2" lengthAdjust="spacingAndGlyphs">0.4</text><text x="478.90" y="346.1" textLength="17.2" lengthAdjust="spacingAndGlyphs">0.5</text></g>
<!-- axis titles -->
<text transform="translate(270.5 366.2) scale(0.797 1)" font-size="15" text-anchor="middle">Variant allele fraction</text>
<text transform="translate(22.8 167.8) rotate(-90) scale(0.797 1)" font-size="15" text-anchor="middle">Density</text>
<!-- legend -->
<rect x="373.4" y="100.7" width="12.8" height="12.2" fill="rgba(174,28,68,0.56)" stroke="#ae1c44" stroke-width="1.5" stroke-linejoin="round"/>
<rect x="373.4" y="117.7" width="12.8" height="12.2" fill="rgba(102,165,61,0.49)" stroke="#5a9e2c" stroke-width="1.5" stroke-linejoin="round"/>
<rect x="373.4" y="134.7" width="12.8" height="12.2" fill="rgba(49,75,129,0.5)" stroke="#14326f" stroke-width="1.5" stroke-linejoin="round"/>
<g font-size="12">
<text x="391.1" y="110.3" textLength="45.7" lengthAdjust="spacingAndGlyphs">Targeted</text>
<text x="391.1" y="127" textLength="23.8" lengthAdjust="spacingAndGlyphs">WES</text>
<text x="391.1" y="143.8" textLength="26.2" lengthAdjust="spacingAndGlyphs">WGS</text>
</g>
</svg>
</body></html>
